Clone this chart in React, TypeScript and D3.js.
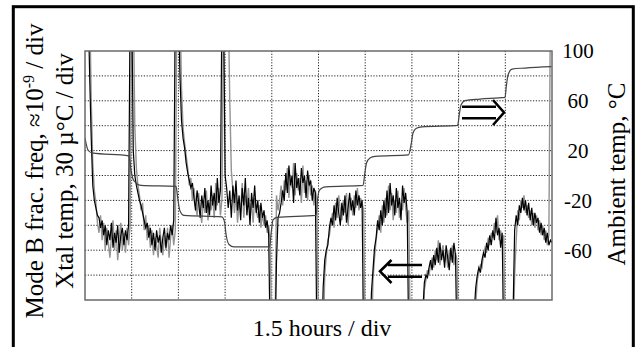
import React, { useEffect, useRef } from 'react'
import * as d3 from 'd3'

const WIDTH = 639
const HEIGHT = 347
const FONT = "'Liberation Serif', 'Times New Roman', Times, serif"

// time axis: 1.5 hours / div, 10 divisions
const hourTicks = [0, 1.5, 3, 4.5, 6, 7.5, 9, 10.5, 12, 13.5, 15]
// left axis in divisions (no labels)
const divTicks = [0, 1, 2, 3, 4, 5, 6, 7, 8, 9, 10]
// right axis, ambient temp in deg C
const ambientTicks = [100, 60, 20, -20, -60]

// traces are sampled every 0.05 h
const SAMPLE_HOURS = 0.05

// Mode B frac. freq, in divisions (values outside 0..10 are off scale)
const freqDiv = [
  12, 12, 12, 9, 6.5, 4.6, 4.0, 3.7, 3.4, 3.3,
  2.9, 3.2, 2.6, 3.0, 2.2, 2.8, 2.4, 3.1, 2.1, 2.7,
  2.3, 3.0, 1.9, 2.6, 2.9, 2.2, 2.8, 2.4, 3.0, 12,
  12, 6.0, 5.0, 4.6, 4.3, 4.0, 3.8, 3.5, 3.2, 2.9,
  3.1, 2.5, 2.9, 2.2, 2.7, 2.0, 2.8, 2.3, 2.6, 1.9,
  2.5, 2.9, 2.1, 2.7, 2.4, 3.0, 2.6, 3.2, 12, 12,
  12, 9, 7.2, 6.5, 6.1, 5.5, 5.1, 4.8, 4.5, 4.7,
  4.1, 3.6, 4.4, 3.9, 3.3, 4.2, 3.7, 4.5, 3.5, 4.0,
  3.4, 4.6, 3.8, 4.3, 3.6, 4.9, 3.9, 4.4, 12, 12,
  5.0, 4.5, 3.7, 4.4, 3.3, 4.6, 3.9, 4.8, 3.6, 4.2,
  3.2, 4.5, 3.8, 4.9, 3.4, 4.1, 3.0, 4.3, 3.7, 4.6,
  3.5, 4.0, 3.1, 3.9, 3.3, 3.6, 2.9, 3.2, 2.6, -2,
  -2, -2, -2, 1.5, 3.3, 3.5, 3.9, 4.4, 4.0, 5.1,
  4.3, 5.4, 4.6, 5.0, 3.9, 5.5, 4.5, 4.9, 4.2, 5.3,
  4.7, 5.0, 4.1, 5.2, 4.6, 4.8, 4.0, 4.5, 4.3, -2,
  -2, -2, -2, 0.5, 1.6, 2.0, 2.2, 2.9, 3.3, 3.0,
  3.8, 3.2, 4.1, 3.5, 3.0, 3.9, 3.4, 4.2, 3.1, 3.7,
  4.3, 3.6, 4.0, 3.4, 4.4, 3.8, 4.2, 3.7, 4.0, -2,
  -2, -2, -2, -2, 0.3, 1.2, 2.1, 2.5, 3.2, 2.8,
  3.6, 3.0, 4.0, 3.3, 4.4, 3.5, 4.7, 3.8, 4.2, 3.4,
  4.5, 3.7, 4.1, 3.2, 4.6, 3.9, 4.3, 3.5, -2, -2,
  -2, -2, -2, -2, -2, -2, -2, -0.5, 0.7, 1.0,
  0.9, 1.3, 1.6, 1.2, 1.8, 1.4, 2.1, 1.5, 2.3, 1.6,
  2.0, 1.3, 2.2, 1.7, 1.2, 2.1, 1.5, 2.3, 1.8, -2,
  -2, -2, -2, -2, -2, -2, -2, -2, -2, -2,
  -0.5, 0.5, 1.0, 1.3, 1.1, 1.6, 1.9, 1.7, 2.3, 2.0,
  2.6, 2.2, 2.8, 2.4, 3.3, 2.6, 2.9, 2.1, 2.7, -2,
  -2, -2, -2, -2, -2, -0.5, 2.8, 3.4, 3.0, 3.8,
  3.5, 4.1, 3.6, 4.0, 3.4, 3.9, 3.2, 3.7, 3.0, 3.5,
  3.1, 3.3, 2.7, 3.1, 2.6, 2.9, 2.3, 2.7, 2.2, 2.4,
  2.3,
]

// Xtal temp, in divisions (grey trace)
const xtalDiv = [
  12, 12, 12, 12, 8, 5.5, 4.4, 3.9, 3.1, 2.7,
  3.4, 2.4, 3.1, 2.0, 2.9, 2.3, 1.7, 2.6, 3.2, 2.0,
  2.8, 1.6, 2.5, 3.1, 2.0, 2.7, 1.9, 2.9, 2.2, 3.0,
  12, 12, 7.0, 5.3, 4.6, 4.2, 3.6, 3.9, 2.8, 3.4,
  2.4, 3.0, 2.1, 2.8, 1.8, 2.5, 2.2, 1.7, 2.9, 2.3,
  1.8, 2.6, 2.0, 2.9, 1.7, 2.5, 3.0, 2.2, 2.8, 12,
  12, 12, 8.5, 6.9, 6.3, 5.8, 5.3, 4.6, 4.9, 4.0,
  4.5, 3.8, 3.4, 4.3, 3.6, 3.1, 4.0, 3.5, 4.4, 3.2,
  3.9, 3.6, 4.2, 3.3, 4.7, 3.8, 4.5, 3.4, 4.1, 12,
  12, 12, 12, 8, 5.2, 4.4, 3.5, 4.3, 3.1, 4.0,
  3.6, 4.7, 3.3, 4.2, 3.8, 4.5, 3.4, 3.9, 3.1, 4.1,
  3.6, 3.3, 3.8, 2.9, 3.5, 3.0, 3.4, 2.7, 3.0, 2.4,
  -2, -2, -2, 4.2, 3.6, 4.0, 4.6, 3.8, 4.8, 4.4,
  5.3, 4.1, 5.0, 4.5, 5.5, 4.2, 5.1, 4.4, 4.9, 3.9,
  5.4, 4.3, 4.8, 4.0, 5.0, 4.2, 4.6, 3.8, 4.4, 4.0,
  -2, -2, -2, -2, 1.0, 1.8, 2.4, 2.6, 3.1, 3.5,
  2.9, 3.9, 3.3, 4.2, 3.6, 3.2, 4.0, 3.5, 4.3, 3.0,
  3.9, 4.1, 3.4, 4.2, 3.7, 4.5, 3.6, 4.1, 3.9, 3.6,
  -2, -2, -2, -2, -2, 0.8, 1.7, 2.4, 2.9, 3.4,
  2.7, 3.8, 3.1, 4.1, 3.4, 4.6, 3.6, 4.3, 3.2, 4.0,
  3.5, 4.4, 3.3, 3.9, 3.6, 4.5, 3.7, 3.1, 3.6, -2,
  -2, -2, -2, -2, -2, -2, -2, -2, 0.4, 0.8,
  1.2, 1.0, 1.4, 1.7, 1.3, 2.0, 1.6, 2.4, 1.4, 1.9,
  2.2, 1.5, 1.9, 1.3, 2.0, 1.6, 2.2, 1.4, 1.9, 1.6,
  -2, -2, -2, -2, -2, -2, -2, -2, -2, -2,
  -2, -0.2, 0.8, 1.1, 1.4, 1.3, 1.8, 2.1, 1.9, 2.5,
  2.2, 2.7, 2.5, 3.1, 2.7, 3.4, 2.4, 2.8, 2.3, 2.6,
  -2, -2, -2, -2, -2, -2, 1.0, 2.4, 3.6, 3.2,
  4.0, 3.7, 4.2, 3.5, 3.8, 3.3, 3.6, 3.0, 3.5, 2.9,
  3.4, 2.8, 3.2, 2.6, 3.0, 2.4, 2.8, 2.2, 2.6, 12,
  12,
]

// Ambient temp staircase (hours, deg C)
const ambientHours = [
  0, 0.096, 0.225, 1.413, 1.478, 1.542, 1.638, 1.799, 2.923, 2.987,
  3.051, 3.18, 4.4, 4.481, 4.529, 4.625, 4.786, 5.926, 5.99, 6.039,
  6.167, 7.42, 7.468, 7.516, 7.612, 7.741, 8.929, 8.994, 9.042, 9.154,
  9.315, 10.391, 10.487, 10.535, 10.632, 10.824, 11.965, 12.029, 12.077, 12.206,
  12.687, 13.49, 13.538, 13.587, 13.715, 14.133, 14.984,
]
const ambientTemp = [
  30.1, 20.5, 18.1, 15.7, 4.4, -2.8, -6.0, -8.0, -8.8, -19.7,
  -28.5, -32.1, -33.3, -37.3, -47.0, -55.4, -57.4, -57.4, -43.8, -35.7,
  -33.7, -32.1, -19.7, -12.4, -10.0, -9.2, -8.0, 2.8, 10.0, 14.1,
  15.3, 16.5, 26.9, 34.1, 37.8, 39.0, 40.2, 50.2, 56.6, 60.2,
  61.4, 62.7, 72.7, 80.7, 85.5, 86.3, 87.4,
]

function DualAxisTrace() {
  const svgRef = useRef<SVGSVGElement>(null)

  useEffect(() => {
    const svg = d3.select(svgRef.current)
    svg.selectAll('*').remove()

    const margin = { top: 51, right: 87, bottom: 47, left: 85 }
    const innerWidth = WIDTH - margin.left - margin.right
    const innerHeight = HEIGHT - margin.top - margin.bottom

    const xScale = d3.scaleLinear().domain([0, 15]).range([0, innerWidth])
    const yLeft = d3.scaleLinear().domain([0, 10]).range([innerHeight, 0])
    const yRight = d3.scaleLinear().domain([-100, 100]).range([innerHeight, 0])

    svg.append('rect')
      .attr('width', WIDTH).attr('height', HEIGHT).attr('fill', '#fff')

    // outer frame (bottom edge runs off the page)
    svg.append('rect')
      .attr('x', 13.3).attr('y', 6.7)
      .attr('width', 620).attr('height', 400)
      .attr('fill', 'none').attr('stroke', '#000').attr('stroke-width', 3)

    const g = svg.append('g')
      .attr('transform', `translate(${margin.left},${margin.top})`)

    // dotted grid
    g.append('g').selectAll('line')
      .data(hourTicks.slice(1, -1))
      .enter().append('line')
      .attr('x1', d => xScale(d)).attr('x2', d => xScale(d))
      .attr('y1', 0).attr('y2', innerHeight)
    g.append('g').selectAll('line')
      .data(divTicks.slice(1, -1))
      .enter().append('line')
      .attr('x1', 0).attr('x2', innerWidth)
      .attr('y1', d => yLeft(d)).attr('y2', d => yLeft(d))
    g.selectAll('line')
      .attr('stroke', '#222')
      .attr('stroke-width', 1)
      .attr('stroke-dasharray', '1.2,1.6')

    svg.append('clipPath').attr('id', 'plot-clip')
      .append('rect').attr('x', margin.left).attr('y', margin.top)
      .attr('width', innerWidth).attr('height', innerHeight)

    const traces = g.append('g').attr('clip-path', 'url(#plot-clip)')
      .attr('transform', `translate(${-margin.left},${-margin.top})`)
      .append('g').attr('transform', `translate(${margin.left},${margin.top})`)

    const sampleLine = d3.line<number>()
      .x((d, i) => xScale(i * SAMPLE_HOURS))
      .y(d => yLeft(d))

    traces.append('path')
      .attr('d', sampleLine(xtalDiv))
      .attr('fill', 'none').attr('stroke', '#939393').attr('stroke-width', 1.4)

    traces.append('path')
      .attr('d', sampleLine(freqDiv))
      .attr('fill', 'none').attr('stroke', '#000').attr('stroke-width', 1.2)

    const ambientLine = d3.line<number>()
      .x(d => xScale(d))
      .y((d, i) => yRight(ambientTemp[i]))
      .curve(d3.curveMonotoneX)

    traces.append('path')
      .attr('d', ambientLine(ambientHours))
      .attr('fill', 'none').attr('stroke', '#444').attr('stroke-width', 1.2)

    // plot frame
    g.append('rect')
      .attr('width', innerWidth).attr('height', innerHeight)
      .attr('fill', 'none').attr('stroke', '#6a6a6a').attr('stroke-width', 1.5)

    // right axis labels
    g.append('g').selectAll('text')
      .data(ambientTicks)
      .enter().append('text')
      .attr('x', innerWidth + 26)
      .attr('y', d => yRight(d))
      .attr('dy', '0.35em')
      .attr('text-anchor', 'middle')
      .style('font-family', FONT)
      .style('font-size', '21px')
      .text(d => String(d))

    // arrows pointing to the axes
    const arrows = g.append('g')
      .attr('fill', 'none').attr('stroke', '#000').attr('stroke-width', 2.6)
    arrows.append('path').attr('d', 'M377,55.7H411M377,67.3H411M408,49L419,61.5L408,74')
    arrows.append('path').attr('d', 'M303,214H337M303,225.7H337M306.5,209L295,220.3L306.5,232')

    const text = (x: number, y: number, rotate: boolean) =>
      svg.append('text')
        .attr('transform', `translate(${x},${y})${rotate ? ' rotate(-90)' : ''}`)
        .attr('text-anchor', 'middle')
        .style('font-family', FONT)
        .style('font-size', '25px')

    const t1 = text(43, 171, true)
    t1.append('tspan').text('Mode B frac. freq, \u224810')
    t1.append('tspan').attr('dy', -9).style('font-size', '16px').text('-9')
    t1.append('tspan').attr('dy', 9).text(' / div')

    text(73, 171, true).text('Xtal temp, 30 \u00b5\u00b0C / div')
    text(625, 174, true).text('Ambient temp, \u00b0C')
    text(322, 336, false).style('font-size', '24px').text('1.5 hours / div')
  }, [])

  return (
    <svg
      ref={svgRef}
      width={WIDTH}
      height={HEIGHT}
      style={{ position: 'absolute', left: 0, top: 0 }}
    />
  )
}

export default function App() {
  return <DualAxisTrace />
}
